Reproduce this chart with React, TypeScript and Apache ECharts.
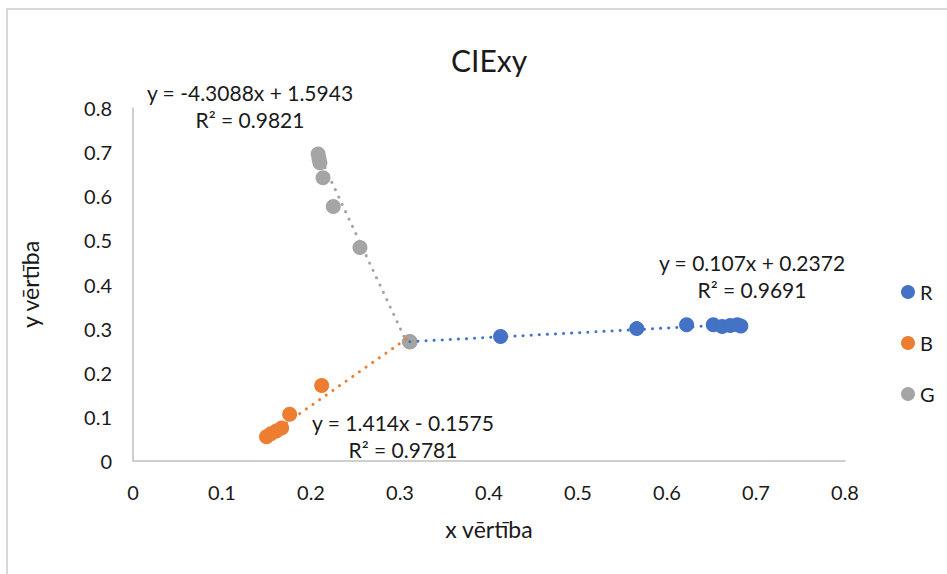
import React, { useEffect, useRef } from "react";
import * as echarts from "echarts";

const seriesNames = ["R", "B", "G"];
const seriesColors = ["#4472C4", "#ED7D31", "#A5A5A5"];

const rX = [0.311, 0.413, 0.566, 0.622, 0.652, 0.662, 0.671, 0.679, 0.683];
const rY = [0.27, 0.282, 0.3, 0.309, 0.309, 0.305, 0.307, 0.309, 0.306];
const bX = [0.311, 0.212, 0.176, 0.167, 0.161, 0.155, 0.15];
const bY = [0.27, 0.171, 0.106, 0.075, 0.068, 0.062, 0.055];
const gX = [0.311, 0.255, 0.225, 0.2135, 0.21, 0.209, 0.208];
const gY = [0.27, 0.484, 0.577, 0.642, 0.676, 0.685, 0.696];

const trendSlopes = [0.107, 1.414, -4.3088];
const trendIntercepts = [0.2372, -0.1575, 1.5943];
const trendEquations = ["y = 0.107x + 0.2372", "y = 1.414x - 0.1575", "y = -4.3088x + 1.5943"];
const trendR2 = ["R² = 0.9691", "R² = 0.9781", "R² = 0.9821"];

const titleText = "CIExy";
const xAxisName = "x vērtība";
const yAxisName = "y vērtība";

const FONT = "Lato, 'Open Sans', sans-serif";

export default function App() {
  const ref = useRef<HTMLDivElement>(null);
  useEffect(() => {
    if (!ref.current) return;
    const chart = echarts.init(ref.current, undefined, { renderer: "svg" });
    const xs = [rX, bX, gX];
    const ys = [rY, bY, gY];
    const scatterSeries = seriesNames.map((name, i) => ({
      name,
      type: "scatter",
      data: xs[i].map((x, j) => [x, ys[i][j]]),
      symbol: "circle",
      symbolSize: 15,
      itemStyle: { color: seriesColors[i], opacity: 1 },
      z: 2,
    }));
    const trendSeries = seriesNames.map((name, i) => {
      const lo = Math.min(...xs[i]);
      const hi = Math.max(...xs[i]);
      return {
        name: name + " trend",
        type: "line",
        data: [
          [lo, trendSlopes[i] * lo + trendIntercepts[i]],
          [hi, trendSlopes[i] * hi + trendIntercepts[i]],
        ],
        symbol: "none",
        lineStyle: { color: seriesColors[i], width: 3, type: [0.1, 8], cap: "round" },
        z: 3,
        silent: true,
      };
    });
    const labelPos = [
      [752, 276],
      [403, 436],
      [250, 106],
    ];
    chart.setOption({
      animation: false,
      backgroundColor: "#fff",
      textStyle: { fontFamily: FONT },
      title: {
        text: titleText,
        left: 446,
        top: 40,
        textStyle: { fontFamily: FONT, fontSize: 30, fontWeight: "normal", color: "#1a1a1a" },
      },
      legend: {
        data: seriesNames,
        orient: "vertical",
        left: 896,
        top: 277,
        itemGap: 31,
        itemWidth: 14,
        itemHeight: 14,
        icon: "circle",
        textStyle: { fontFamily: FONT, fontSize: 20, color: "#1a1a1a", lineHeight: 14 },
      },
      grid: { left: 133, right: 102, top: 108, bottom: 113 },
      xAxis: {
        type: "value",
        min: 0,
        max: 0.8,
        interval: 0.1,
        name: xAxisName,
        nameLocation: "middle",
        nameGap: 56,
        nameTextStyle: { fontFamily: FONT, fontSize: 23, color: "#1a1a1a" },
        axisLine: { show: true, lineStyle: { color: "#BFBFBF", width: 1.5 } },
        axisTick: { show: false },
        splitLine: { show: false },
        axisLabel: {
          fontFamily: FONT,
          fontSize: 20,
          color: "#1a1a1a",
          margin: 21,
          formatter: (v: number) => String(Math.round(v * 10) / 10),
        },
      },
      yAxis: {
        type: "value",
        min: 0,
        max: 0.8,
        interval: 0.1,
        name: yAxisName,
        nameLocation: "middle",
        nameGap: 92,
        nameRotate: 90,
        nameTextStyle: { fontFamily: FONT, fontSize: 23, color: "#1a1a1a" },
        axisLine: { show: true, lineStyle: { color: "#BFBFBF", width: 1.5 } },
        axisTick: { show: false },
        splitLine: { show: false },
        axisLabel: {
          fontFamily: FONT,
          fontSize: 20,
          color: "#1a1a1a",
          margin: 21,
          formatter: (v: number) => String(Math.round(v * 10) / 10),
        },
      },
      graphic: [
        {
          type: "rect",
          shape: { x: 7, y: 9, width: 1000, height: 1000 },
          style: { fill: "none", stroke: "#D9D9D9", lineWidth: 2 },
          silent: true,
        },
        ...seriesNames.map((_, i) => ({
          type: "text",
          x: labelPos[i][0],
          y: labelPos[i][1],
          style: {
            text: trendEquations[i] + "\n" + trendR2[i],
            fontFamily: FONT,
            fontSize: 21,
            lineHeight: 27,
            fill: "#1a1a1a",
            align: "center",
            verticalAlign: "middle",
          },
          z: 10,
        })),
      ],
      series: [...scatterSeries, ...trendSeries],
    });
    return () => chart.dispose();
  }, []);
  return (
    <div
      ref={ref}
      style={{ position: "fixed", left: 0, top: 0, width: 947, height: 574 }}
    />
  );
}
